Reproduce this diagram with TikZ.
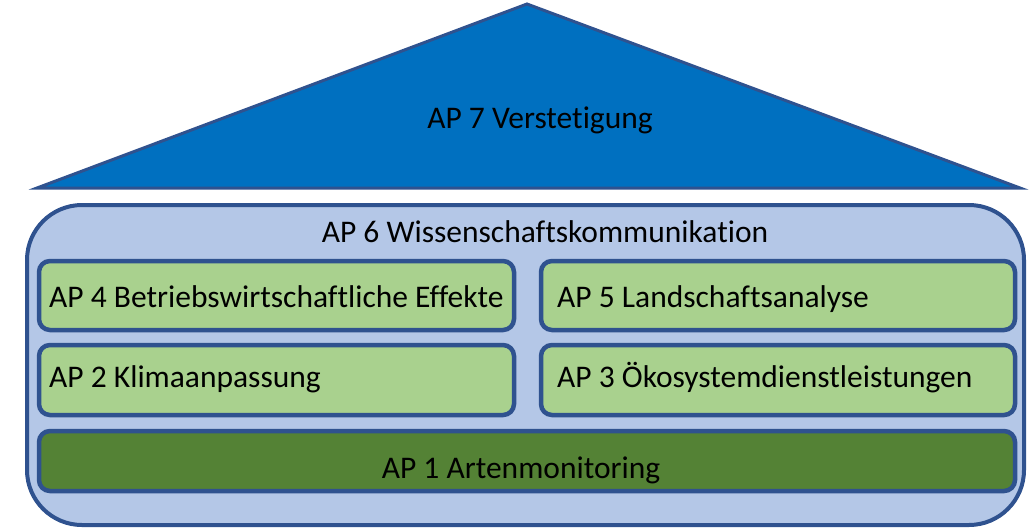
\documentclass[tikz,border=0pt]{standalone}
\usepackage{fontspec}
\setmainfont[Ligatures={NoCommon}]{Carlito}
\definecolor{edge}{HTML}{2F528F}
\definecolor{roof}{HTML}{0070C0}
\definecolor{outer}{HTML}{B4C7E7}
\definecolor{lightg}{HTML}{A9D18E}
\definecolor{darkg}{HTML}{548235}
\begin{document}
\begin{tikzpicture}[x=1pt,y=-1pt,
  lbl/.style={font=\fontsize{31.5}{36}\selectfont, inner sep=0pt, text=black},
  box/.style={draw=edge, line width=4.5pt, rounded corners=11pt}]
\useasboundingbox (0,0) rectangle (1030,528);
% roof
\filldraw[fill=roof, draw=edge, line width=3pt, line join=miter] (37,188) -- (527,4) -- (1020,188) -- cycle;
\node[lbl, anchor=base] (ap7) at (540,128) {AP 7 Verstetigung};
% outer house
\filldraw[fill=outer, draw=edge, line width=4pt, rounded corners=55pt] (27,205) rectangle (1024,525);
\node[lbl, anchor=base] (ap6) at (545,242) {AP 6 Wissenschaftskommunikation};
% inner boxes
\filldraw[box, fill=lightg] (39,261) rectangle (514,330);
\filldraw[box, fill=lightg] (541,261) rectangle (1015,330);
\filldraw[box, fill=lightg] (39,345) rectangle (514,415);
\filldraw[box, fill=lightg] (541,345) rectangle (1015,415);
\filldraw[box, fill=darkg] (39,431) rectangle (1015,491);
\node[lbl, anchor=base west] (ap4) at (49,307) {AP 4 Betriebswirtschaftliche Effekte};
\node[lbl, anchor=base west] (ap5) at (557,307) {AP 5 Landschaftsanalyse};
\node[lbl, anchor=base west] (ap2) at (49,387) {AP 2 Klimaanpassung};
\node[lbl, anchor=base west] (ap3) at (557,387) {AP 3 Ökosystemdienstleistungen};
\node[lbl, anchor=base] (ap1) at (521,478) {AP 1 Artenmonitoring};
\end{tikzpicture}
\end{document}
